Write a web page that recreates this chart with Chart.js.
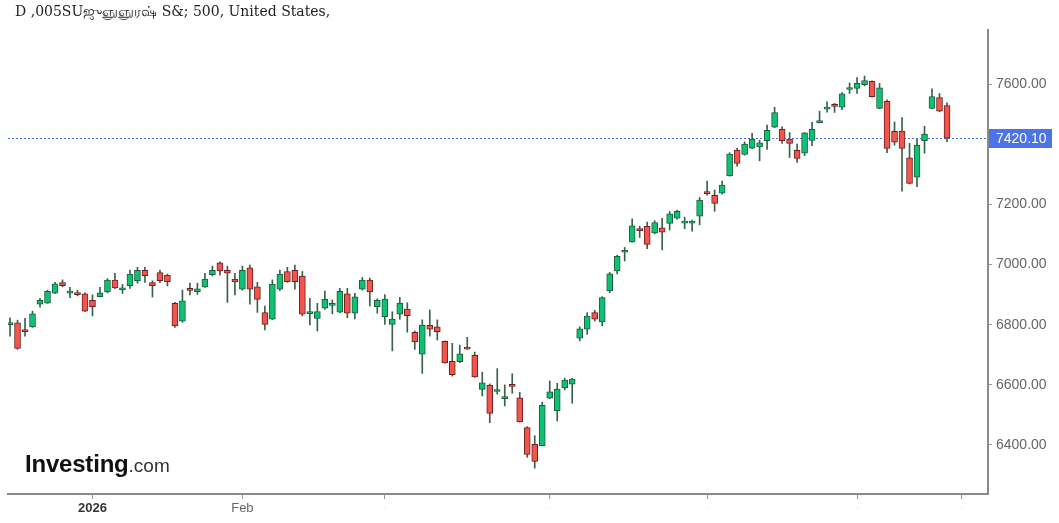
<!DOCTYPE html>
<html>
<head>
<meta charset="utf-8">
<script src="https://cdn.jsdelivr.net/npm/chart.js@4"></script>
<style>
  html, body { margin: 0; padding: 0; background: #fff; }
  #wrap { position: relative; width: 1059px; height: 523px; }
  #title { position: absolute; left: 15px; top: 3px; font: 14px "DejaVu Serif", serif; color: #222; white-space: nowrap; }
  #logo { position: absolute; left: 25px; top: 452px; font-family: "Liberation Sans", Arial, sans-serif; line-height: 1; white-space: nowrap; }
  #logo b { font-size: 24px; font-weight: bold; color: #111; letter-spacing: -0.2px; }
  #logo span { font-size: 19px; color: #333; }
</style>
</head>
<body>
<div id="wrap">
  <canvas id="c"></canvas>
  <div id="title">D ,005SUஜுஞுஞுரஷ் S&amp;; 500, United States,</div>
  <div id="logo"><b>Investing</b><span>.com</span></div>
</div>
<script>
// OHLC, one row per trading day (Dec 2025 -> Jun 2026)
const opens = [6800,6806,6780,6793,6868,6872,6905,6940,6905,6902,6903,6881,6893,6909,6948,6916,6930,6946,6981,6940,
  6973,6965,6871,6812,6916,6910,6926,6966,7006,6981,6952,6918,6989,6926,6840,6818,6918,6977,6981,6962,
  6837,6821,6855,6864,6842,6903,6838,6918,6948,6860,6827,6801,6835,6852,6775,6702,6798,6793,6745,6678,
  6677,6721,6698,6585,6599,6578,6554,6597,6557,6458,6402,6398,6556,6514,6590,6602,6755,6785,6840,6809,
  6913,6979,7041,7075,7116,7127,7105,7122,7137,7154,7138,7138,7161,7238,7230,7237,7295,7381,7366,7387,
  7391,7412,7457,7450,7417,7380,7370,7413,7472,7517,7528,7523,7582,7586,7598,7609,7519,7543,7443,7444,
  7355,7291,7412,7519,7555,7529];
const highs = [6823,6815,6821,6845,6888,6915,6941,6949,6924,6915,6906,6899,6924,6953,6971,6934,6982,6991,6991,6946,
  6982,6968,6874,6915,6938,6938,6971,6995,7009,6995,6971,6995,6998,6941,6862,6949,6982,6991,6998,6977,
  6888,6871,6912,6882,6921,6921,6904,6957,6955,6886,6900,6843,6891,6873,6779,6816,6849,6816,6746,6738,
  6732,6758,6709,6642,6603,6654,6600,6637,6575,6461,6431,6542,6613,6605,6622,6622,6793,6840,6848,6893,
  6974,7031,7057,7152,7128,7141,7146,7154,7176,7181,7158,7148,7223,7278,7248,7278,7372,7387,7408,7436,
  7414,7464,7523,7458,7439,7401,7439,7473,7510,7541,7536,7572,7604,7622,7627,7611,7602,7548,7474,7489,
  7403,7417,7460,7584,7569,7538];
const lows = [6762,6718,6762,6791,6858,6871,6903,6926,6890,6896,6843,6829,6892,6906,6920,6904,6921,6938,6941,6892,
  6940,6929,6791,6808,6899,6901,6924,6962,6965,6874,6899,6915,6868,6841,6783,6817,6913,6941,6918,6829,
  6799,6779,6851,6836,6840,6823,6819,6915,6862,6838,6801,6713,6818,6775,6718,6638,6762,6749,6672,6629,
  6674,6718,6625,6563,6474,6569,6530,6572,6476,6359,6323,6397,6554,6480,6583,6539,6746,6768,6812,6796,
  6906,6969,7012,7074,7090,7053,7102,7049,7115,7151,7119,7111,7132,7231,7177,7235,7294,7327,7364,7385,
  7345,7383,7455,7403,7356,7340,7362,7395,7471,7507,7506,7515,7569,7569,7594,7557,7518,7372,7397,7244,
  7268,7259,7370,7518,7508,7409];
const closes = [6804,6721,6777,6836,6881,6911,6936,6930,6907,6900,6845,6860,6906,6948,6922,6923,6968,6981,6963,6930,
  6946,6943,6796,6879,6914,6919,6952,6981,6979,6971,6942,6981,6918,6884,6801,6935,6968,6943,6943,6835,
  6839,6844,6884,6865,6911,6838,6893,6948,6909,6881,6885,6819,6872,6830,6743,6799,6785,6777,6673,6634,
  6703,6719,6626,6607,6505,6581,6557,6595,6477,6369,6345,6532,6577,6586,6616,6619,6786,6829,6818,6890,
  6969,7027,7043,7129,7113,7067,7140,7108,7169,7177,7140,7140,7214,7236,7203,7264,7367,7336,7401,7417,
  7405,7446,7505,7412,7403,7353,7438,7450,7474,7519,7526,7568,7585,7603,7612,7558,7588,7386,7407,7386,
  7270,7397,7434,7559,7510,7420.10];

const lastPrice = 7420.10;
const yTicks = [6400, 6600, 6800, 7000, 7200, 7400, 7600];
const xTickIdx = [11, 31, 50, 72, 93, 113, 127];
const xTickLabels = ['2026', 'Feb', '.', '.', '.', '.', '.'];

const UP = '#0fc173', UP_LINE = '#1d5c3c';
const DN = '#f2554c', DN_LINE = '#6e1f1f';
const WICK = '#39624d';

const isUp = closes.map((c, i) => c >= opens[i]);
const bodies = closes.map((c, i) => ({ x: i, y: [Math.min(c, opens[i]), Math.max(c, opens[i])] }));
const wicks = highs.map((h, i) => ({ x: i, y: [lows[i], h] }));

const lastLine = {
  id: 'lastLine',
  beforeDatasetsDraw(chart) {
    const { ctx, chartArea: a, scales: { y } } = chart;
    const py = Math.round(y.getPixelForValue(lastPrice)) + 0.5;
    ctx.save();
    ctx.strokeStyle = '#4c74e6';
    ctx.lineWidth = 1;
    ctx.setLineDash([2, 2]);
    ctx.beginPath();
    ctx.moveTo(a.left, py);
    ctx.lineTo(a.right, py);
    ctx.stroke();
    ctx.restore();
  },
  afterDraw(chart) {
    const { ctx, chartArea: a, scales: { y } } = chart;
    const py = y.getPixelForValue(lastPrice);
    ctx.save();
    ctx.fillStyle = '#4c74e6';
    ctx.fillRect(a.right + 1, Math.round(py - 9.5), 63, 19);
    ctx.fillStyle = '#fff';
    ctx.font = '14px "Liberation Sans", Arial, sans-serif';
    ctx.textBaseline = 'middle';
    ctx.fillText(lastPrice.toFixed(2), a.right + 8, py + 0.5);
    ctx.restore();
  }
};

new Chart(document.getElementById('c'), {
  type: 'bar',
  data: {
    datasets: [
      {
        data: bodies, order: 0, grouped: false,
        barThickness: 6, minBarLength: 2, borderWidth: 1, borderSkipped: false,
        backgroundColor: isUp.map(u => u ? UP : DN),
        borderColor: isUp.map(u => u ? UP_LINE : DN_LINE)
      },
      {
        data: wicks, order: 1, grouped: false,
        barThickness: 1, borderWidth: 0,
        backgroundColor: WICK
      }
    ]
  },
  options: {
    responsive: true,
    maintainAspectRatio: false,
    animation: false,
    layout: { padding: { left: 8, top: 30, right: 0, bottom: 0 } },
    plugins: { legend: { display: false }, tooltip: { enabled: false } },
    scales: {
      x: {
        type: 'linear', min: -0.27, max: 130.47, offset: false,
        afterBuildTicks: s => { s.ticks = xTickIdx.map(v => ({ value: v })); },
        afterFit: s => { s.height = 29; },
        grid: { display: true, offset: false, drawOnChartArea: false, drawTicks: true, tickLength: 5, color: '#9a9a9a' },
        border: { display: true, color: '#8a8a8a', width: 2 },
        ticks: {
          autoSkip: false, maxRotation: 0, padding: 2,
          callback: (v, i) => xTickLabels[i],
          font: c => c.index === 0
            ? { family: '"Liberation Sans", Arial, sans-serif', size: 13, weight: 'bold' }
            : { family: '"Liberation Sans", Arial, sans-serif', size: c.index === 1 ? 13 : 8 },
          color: c => c.index === 0 ? '#333' : (c.index === 1 ? '#666' : '#ccc')
        }
      },
      y: {
        position: 'right', min: 6237, max: 7780,
        afterBuildTicks: s => { s.ticks = yTicks.map(v => ({ value: v })); },
        afterFit: s => { s.width = 71; },
        grid: { display: true, drawOnChartArea: false, drawTicks: true, tickLength: 4, color: '#9a9a9a' },
        border: { display: true, color: '#8a8a8a', width: 2 },
        ticks: {
          padding: 4,
          callback: v => v.toFixed(2),
          font: { family: '"Liberation Sans", Arial, sans-serif', size: 14 },
          color: '#666'
        }
      }
    }
  },
  plugins: [lastLine]
});
</script>
</body>
</html>
